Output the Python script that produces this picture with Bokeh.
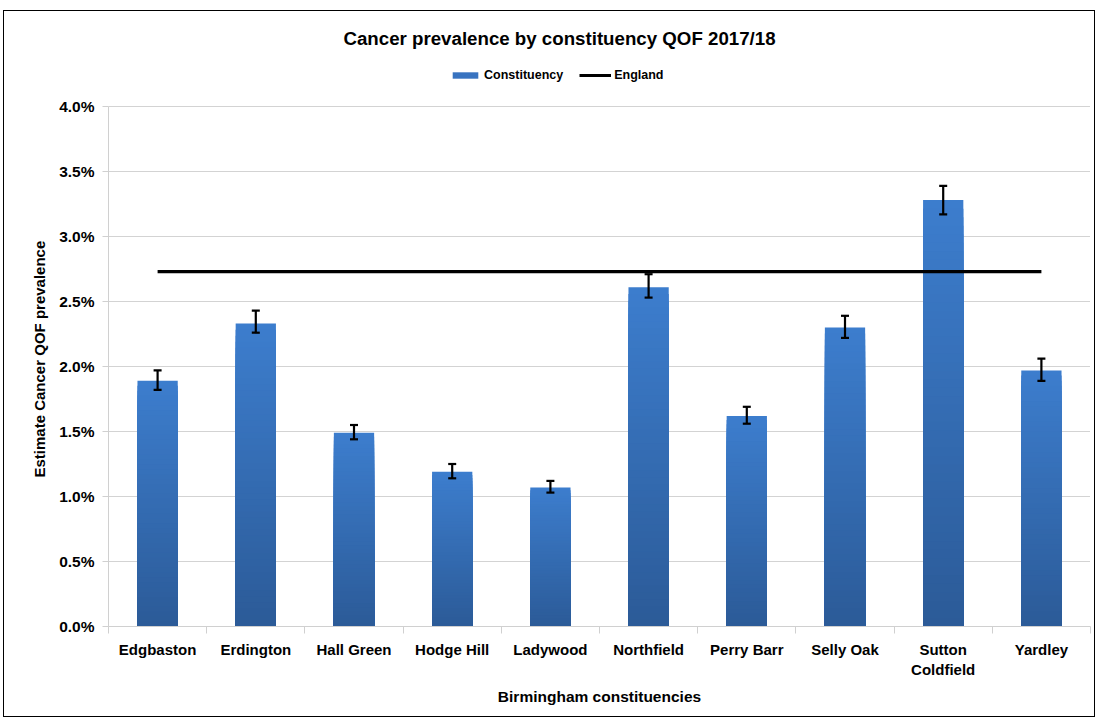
from bokeh.plotting import figure
from bokeh.models import (ColumnDataSource, Whisker, TeeHead, NumeralTickFormatter,
                          FixedTicker, Legend, LegendItem, Range1d, Label, Title)
from bokeh.embed import file_html
from bokeh.resources import INLINE

categories = ["Edgbaston", "Erdington", "Hall Green", "Hodge Hill", "Ladywood",
              "Northfield", "Perry Barr", "Selly Oak", "Sutton\nColdfield", "Yardley"]
prevalence = [0.0189, 0.0233, 0.0149, 0.0119, 0.0107, 0.0261, 0.0162, 0.0230, 0.0328, 0.0197]
ci_lower = [0.0182, 0.0226, 0.0144, 0.0114, 0.0103, 0.0253, 0.0156, 0.0222, 0.0317, 0.0189]
ci_upper = [0.0197, 0.0243, 0.0155, 0.0125, 0.0112, 0.0271, 0.0169, 0.0239, 0.0339, 0.0206]
england = 0.0273
y_ticks = [0.0, 0.005, 0.01, 0.015, 0.02, 0.025, 0.03, 0.035, 0.04]
title_text = "Cancer prevalence by constituency QOF 2017/18"
y_label_text = "Estimate Cancer QOF prevalence"

FONT = "Liberation Sans"
TOP_RGB = (0x3D, 0x7E, 0xCE)
BOT_RGB = (0x2C, 0x5B, 0x98)

# layout (pixels)
W, H = 1092, 707
ML, MR, MB = 104, 6, 92
FRAME_H = H - MB
AXIS_PX = 520           # pixel height for 0 .. 4%
y_end = 0.04 * FRAME_H / AXIS_PX

xs = list(range(len(categories)))

p = figure(width=W, height=H, output_backend="svg", toolbar_location=None,
           x_range=Range1d(-0.5, len(categories) - 0.5), y_range=Range1d(0, y_end),
           min_border_left=ML, min_border_right=MR, min_border_top=0, min_border_bottom=MB)
p.styles = {"border": "1px solid #000000", "margin-left": "3px", "margin-top": "10px"}
p.outline_line_color = None
p.background_fill_color = "white"

# gradient bars: overlapping stacks drawn from tallest (lightest) to shortest (darkest)
N = 50
gx, gtop, gcol = [], [], []
for i in range(N - 1, -1, -1):
    f = (i + 0.5) / N
    r = int(BOT_RGB[0] + (TOP_RGB[0] - BOT_RGB[0]) * f)
    g = int(BOT_RGB[1] + (TOP_RGB[1] - BOT_RGB[1]) * f)
    b = int(BOT_RGB[2] + (TOP_RGB[2] - BOT_RGB[2]) * f)
    for x, v in zip(xs, prevalence):
        gx.append(x)
        gtop.append(v * (i + 1) / N)
        gcol.append("#%02x%02x%02x" % (r, g, b))
grad = ColumnDataSource(dict(x=gx, top=gtop, color=gcol))
p.vbar(x="x", top="top", bottom=0, width=0.41, source=grad,
       fill_color="color", line_color=None)

# legend proxy for constituency (zero-height)
bar_proxy = p.vbar(x=[0], top=[0], width=0.41, fill_color="#3873C0", line_color=None)

# England line
eng = p.line(x=[xs[0], xs[-1]], y=[england, england], line_color="black", line_width=3.2)

# error bars
src = ColumnDataSource(dict(x=xs, lower=ci_lower, upper=ci_upper))
w = Whisker(base="x", lower="lower", upper="upper", source=src, level="overlay",
            line_color="black", line_width=2.2,
            upper_head=TeeHead(size=8, line_color="black", line_width=2.2),
            lower_head=TeeHead(size=8, line_color="black", line_width=2.2))
p.add_layout(w)

# title (inside the extended frame, above the 4% line)
title_y = 0.04 * (FRAME_H - 27) / AXIS_PX
title_x = -0.5 + (451) / ((W - ML - MR) / len(categories))
p.add_layout(Label(x=title_x, y=title_y, text=title_text, text_align="center",
                   text_baseline="middle", text_font=FONT, text_font_size="18.7px",
                   text_font_style="bold", text_color="#000000"))

# y-axis title, positioned along the 0..4% span
y_title = Title(text=y_label_text, align="left", offset=149, standoff=17,
                text_font=FONT, text_font_size="15px", text_font_style="bold",
                text_color="#000000")
p.add_layout(y_title, "left")

# legend
legend = Legend(items=[LegendItem(label="Constituency", renderers=[bar_proxy]),
                       LegendItem(label="England", renderers=[eng])],
                orientation="horizontal", location=(341, 544),
                label_text_font=FONT, label_text_font_size="12.5px", label_text_font_style="bold",
                label_text_color="#000000",
                glyph_width=32, glyph_height=8, spacing=16, label_standoff=3,
                border_line_color=None, background_fill_alpha=0, padding=4, margin=0)
p.add_layout(legend)

# axes
p.yaxis.ticker = FixedTicker(ticks=y_ticks)
p.yaxis.bounds = (0, 0.04)
p.yaxis.formatter = NumeralTickFormatter(format="0.0%")
p.yaxis.axis_line_color = "#d0d0d0"
p.yaxis.major_tick_line_color = "#d0d0d0"
p.yaxis.major_tick_out = 6
p.yaxis.major_tick_in = 0
p.yaxis.minor_tick_line_color = None

p.xaxis.ticker = FixedTicker(ticks=xs, minor_ticks=[x - 0.5 for x in xs] + [xs[-1] + 0.5])
p.xaxis.major_label_overrides = {x: c for x, c in zip(xs, categories)}
p.xaxis.axis_label = "Birmingham constituencies"
p.xaxis.axis_line_color = "#d0d0d0"
p.xaxis.major_tick_line_color = None
p.xaxis.minor_tick_line_color = "#d0d0d0"
p.xaxis.minor_tick_out = 7
p.xaxis.minor_tick_in = 0

for ax in (p.xaxis[0], p.yaxis[0]):
    ax.major_label_text_font = FONT
    ax.major_label_text_font_size = "15.5px"
    ax.major_label_text_font_style = "bold"
    ax.major_label_text_color = "#000000"
    ax.axis_label_text_font = FONT
    ax.axis_label_text_font_size = "15.5px"
    ax.axis_label_text_font_style = "bold"
    ax.axis_label_text_color = "#000000"
p.xaxis.major_label_text_font_size = "15px"
p.yaxis.major_label_standoff = 8
p.xaxis.major_label_standoff = 7
p.xaxis.axis_label_standoff = 7

p.xgrid.grid_line_color = None
p.ygrid.grid_line_color = "#a6a6a6"
p.ygrid.grid_line_dash = "1 1"
p.ygrid.grid_line_width = 1

open("out.html", "w").write(file_html(p, INLINE))
